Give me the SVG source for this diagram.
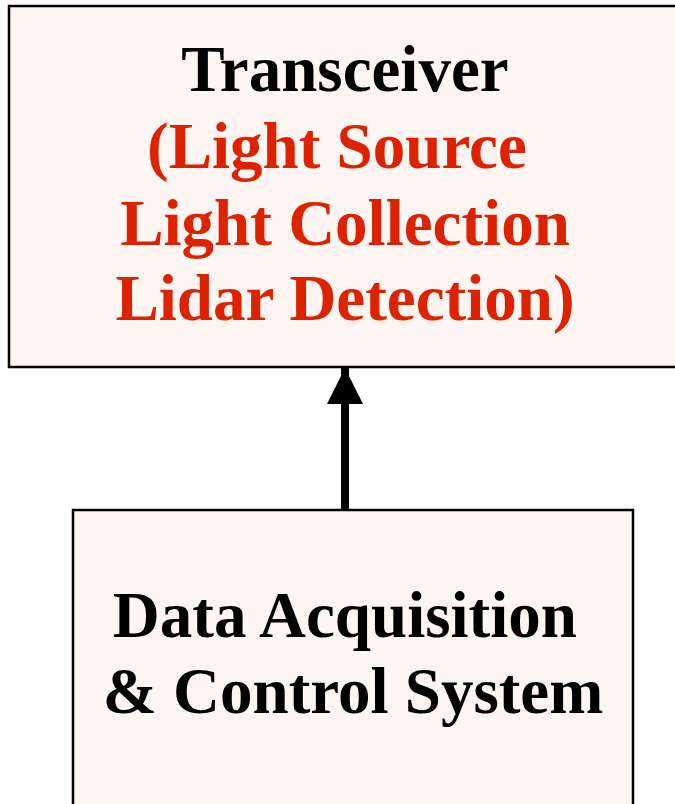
<svg xmlns="http://www.w3.org/2000/svg" width="675" height="804" viewBox="0 0 675 804">
<style>
.box{fill:#fff5f3;stroke:#000;stroke-width:2.5}
.t{font-family:"Liberation Serif","Times New Roman",serif;font-weight:bold;font-size:65px;text-anchor:middle}
.blk{fill:#000}
.red{fill:#dd2200}
</style>
<defs>
<marker id="ah" markerUnits="userSpaceOnUse" markerWidth="36" markerHeight="36" refX="36" refY="18" orient="auto">
<path d="M0,0 L36,18 L0,36 Z" fill="#000"/>
</marker>
</defs>
<g id="transceiver">
<rect class="box" x="9" y="6" width="680" height="361"/>
<text class="t blk" x="345" y="91">Transceiver</text>
<text class="t red" x="345" y="168" xml:space="preserve">(Light Source </text>
<text class="t red" x="345" y="245">Light Collection</text>
<text class="t red" x="345" y="320">Lidar Detection)</text>
</g>
<g id="daq">
<rect class="box" x="73" y="510" width="560" height="310"/>
<text class="t blk" x="353" y="637" xml:space="preserve">Data Acquisition </text>
<text class="t blk" x="353" y="713">&amp; Control System</text>
</g>
<g id="connectors">
<line x1="345" y1="509" x2="345" y2="368" stroke="#000" stroke-width="8" marker-end="url(#ah)"/>
</g>
</svg>
